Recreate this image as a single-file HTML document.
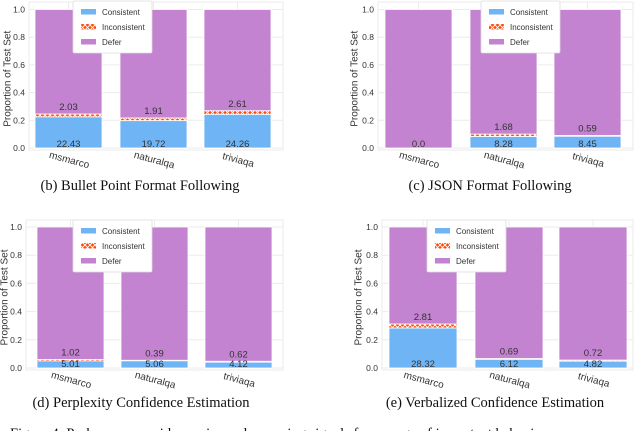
<!DOCTYPE html>
<html><head><meta charset="utf-8"><style>
html,body{margin:0;padding:0;background:#fff;}
svg{display:block;}
</style></head><body>
<svg id="fig" width="640" height="431" viewBox="0 0 640 431" xmlns="http://www.w3.org/2000/svg">
<defs>
<pattern id="xhatch" width="5" height="5" patternUnits="userSpaceOnUse">
<rect width="5" height="5" fill="#ff4a0a"/>
<path d="M0,0L5,5M5,0L0,5" stroke="#fff" stroke-width="0.9"/>
</pattern>
</defs>
</svg>
<script>
const categories = ["msmarco","naturalqa","triviaqa"];
const yTicks = [0,0.2,0.4,0.6,0.8,1.0];
const yTickLabels = ["0.0","0.2","0.4","0.6","0.8","1.0"];
const consistentB = [22.43,19.72,24.26];
const inconsistentB = [2.03,1.91,2.61];
const consistentC = [0.0,8.28,8.45];
const inconsistentC = [0.0,1.68,0.59];
const consistentD = [5.01,5.06,4.12];
const inconsistentD = [1.02,0.39,0.62];
const consistentE = [28.32,6.12,4.82];
const inconsistentE = [2.81,0.69,0.72];

const NS = "http://www.w3.org/2000/svg";
const fig = document.getElementById('fig');
function mk(tag, attrs, parent){const e=document.createElementNS(NS,tag);for(const k in attrs)e.setAttribute(k,attrs[k]);(parent||fig).appendChild(e);return e;}

const panels = [
 {id:'b',left:29,right:283,top:2,y0:148,y1:9.5,barX:[35,120,204],bw:67,cons:consistentB,inc:inconsistentB,legX:73,legY:1,cap:"(b) Bullet Point Format Following",capX:140,capY:190,ylab:7},
 {id:'c',left:378,right:633,top:2,y0:148,y1:9.5,barX:[385,470,554],bw:67,cons:consistentC,inc:inconsistentC,legX:481,legY:1,cap:"(c) JSON Format Following",capX:490,capY:190,ylab:354},
 {id:'d',left:26,right:283,top:220,y0:368,y1:227,barX:[37,121,205],bw:67,cons:consistentD,inc:inconsistentD,legX:73,legY:220,cap:"(d) Perplexity Confidence Estimation",capX:141,capY:407,ylab:4},
 {id:'e',left:382,right:633,top:220,y0:368,y1:227,barX:[389,475,559],bw:68,cons:consistentE,inc:inconsistentE,legX:427,legY:220,cap:"(e) Verbalized Confidence Estimation",capX:495,capY:407,ylab:358}
];

panels.forEach(p=>{
 const g = mk('g',{});
 
 
 const ys = v => p.y0 - v*(p.y0-p.y1);
 mk('rect',{x:p.left,y:p.top,width:p.right-p.left,height:p.y0+2-p.top,fill:'#fff',stroke:'#ebebeb','stroke-width':1},g);
 yTicks.forEach((t,i)=>{
  mk('line',{x1:p.left,x2:p.right,y1:ys(t),y2:ys(t),stroke:'#ebebeb','stroke-width':1},g);
  const tl = mk('text',{x:p.left-4,y:ys(t)+3,'text-anchor':'end','font-family':'Liberation Sans, sans-serif','font-size':8.5,fill:'#333'},g);
  
  
  tl.textContent = yTickLabels[i];
 });
 p.barX.forEach(x=>{const cx=x+p.bw/2;mk('line',{x1:cx,x2:cx,y1:p.top,y2:p.y0+2,stroke:'#ebebeb','stroke-width':1},g);});
 const yl = mk('text',{x:0,y:0,transform:`translate(${p.ylab+3.5},${(p.y0+p.y1)/2}) rotate(-90)`,'text-anchor':'middle','font-family':'Liberation Sans, sans-serif','font-size':10,fill:'#333'},g);
 
 
 yl.textContent='Proportion of Test Set';
 categories.forEach((c,i)=>{
  const x=p.barX[i], w=p.bw;
  const cv=p.cons[i]/100, iv=p.inc[i]/100;
  const d = mk('rect',{x:x,y:ys(1),width:w,height:ys(cv+iv)-ys(1),fill:'#c383d1',stroke:'#fff','stroke-width':0.8},g);
  
  
  if(iv>0){
   const r = mk('rect',{x:x,y:ys(cv+iv),width:w,height:ys(cv)-ys(cv+iv),fill:'url(#xhatch)',stroke:'#fff','stroke-width':0.8},g);
   
   
  }
  if(cv>0){
   const r = mk('rect',{x:x,y:ys(cv),width:w,height:p.y0-ys(cv),fill:'#6fb4f4',stroke:'#fff','stroke-width':0.8},g);
   
   
  }
  const cl = mk('text',{x:x+w/2,y:p.y0-1,'text-anchor':'middle','font-family':'Liberation Sans, sans-serif','font-size':9.5,fill:'#333'},g);
  
  
  cl.textContent = Number.isInteger(p.cons[i])?p.cons[i].toFixed(1):String(p.cons[i]);
  if(iv>0){
   const il = mk('text',{x:x+w/2,y:ys(cv+iv)-4,'text-anchor':'middle','font-family':'Liberation Sans, sans-serif','font-size':9.5,fill:'#333'},g);
   
   
   il.textContent = String(p.inc[i]);
  }
  const xl = mk('text',{x:0,y:0,transform:`translate(${x+w/2},${p.y0+15}) rotate(15)`,'text-anchor':'middle','font-family':'Liberation Sans, sans-serif','font-size':10,fill:'#333'},g);
  
  
  xl.textContent=c;
 });
 const lg = mk('g',{},g);
 
 
 mk('rect',{x:p.legX,y:p.legY,width:79,height:52,fill:'#fff',stroke:'#ddd','stroke-width':0.8,rx:1.5},lg);
 const items=[['Consistent','#6fb4f4'],['Inconsistent','url(#xhatch)'],['Defer','#c383d1']];
 items.forEach((it,k)=>{
  const yy=p.legY+11+k*15;
  mk('rect',{x:p.legX+8,y:yy-3,width:15,height:5.5,fill:it[1]},lg);
  const t=mk('text',{x:p.legX+29,y:yy+3,'font-family':'Liberation Sans, sans-serif','font-size':8,fill:'#333'},lg);
  
  
  t.textContent=it[0];
 });
 const cap = mk('text',{x:p.capX,y:p.capY,'text-anchor':'middle','font-family':'Liberation Serif, serif','font-size':14.5,fill:'#111'},g);
 
 
 cap.textContent=p.cap;
});
const fc = mk('text',{x:10,y:438,'font-family':'Liberation Serif, serif','font-size':14.5,fill:'#111'});


fc.textContent='Figure 4: Probes can provide precise early warning signals for a range of important behaviours.';
</script>
</body></html>
